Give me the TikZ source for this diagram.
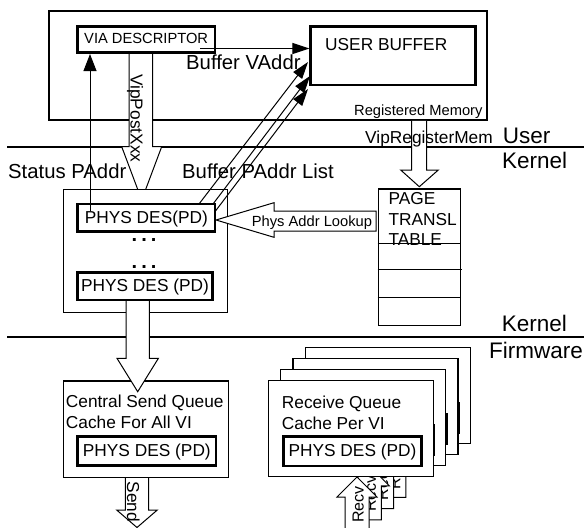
\documentclass[tikz,border=0pt]{standalone}
\usepackage{fontspec}
\setmainfont{Liberation Sans}
\usetikzlibrary{arrows.meta,calc}
\begin{document}
\begin{tikzpicture}[x=1pt,y=-1pt,
  thinbox/.style={draw, line width=1.2pt, inner sep=0pt, fill=white},
  thickbox/.style={draw, line width=2.7pt, inner sep=0pt, fill=white, text depth=1.5pt},
  blockarrow/.style={draw, line width=1pt, fill=white, line join=miter},
  ptr/.style={line width=1pt, -{Triangle[length=17pt,width=11pt]}},
  fs/.style={font=\fontsize{14.7}{17}\selectfont},
  fm/.style={font=\fontsize{17.3}{20.5}\selectfont},
  fr/.style={font=\fontsize{16}{19}\selectfont},
  fl/.style={font=\fontsize{20.3}{24}\selectfont},
  fx/.style={font=\fontsize{22.5}{26}\selectfont},
  fdots/.style={font=\fontsize{20}{24}\selectfont\bfseries},
  lbl/.style={inner sep=0pt, anchor=base west},
  sep/.style={line width=2.3pt},
]
\useasboundingbox (0,0) rectangle (588,527);

% layer separators
\coordinate (ukL) at (7,146.7);
\coordinate (ukR) at (584,146.7);
\coordinate (kfL) at (7,337);
\coordinate (kfR) at (584,337);
\draw[sep] (ukL) -- (ukR);
\draw[sep] (kfL) -- (kfR);
\node[fx,lbl] (tuser) at (502.7,143.3) {User};
\node[fx,lbl] (tkern1) at (502,168.3) {Kernel};
\node[fx,lbl] (tkern2) at (501.7,331) {Kernel};
\node[fx,lbl] (tfirm) at (489,358.3) {Firmware};

% user space
\node[draw, line width=1.7pt, inner sep=0pt, minimum width=438pt, minimum height=109.3pt] (userbox) at (268.3,65.35) {};
\filldraw[blockarrow] (129,52.7) -- (129,146.7) -- (121.7,146.7) -- (141.7,200) -- (161.7,146.7) -- (152.7,146.7) -- (152.7,52.7);
\node[fm, inner sep=0pt, rotate=-90, anchor=base west] (tpost) at (130.5,74) {VipPostXxx};
\filldraw[blockarrow] (411.7,120.9) -- (411.7,170) -- (400.7,170) -- (419.3,186.7) -- (438.3,170) -- (426.7,170) -- (426.7,120.9);
\node[fm,lbl] (treg) at (365,143) {VipRegisterMem};
\node[thickbox, fs, text depth=3pt, minimum width=137.7pt, minimum height=26pt] (via) at (146.15,39.7) {VIA DESCRIPTOR};
\node[thickbox, minimum width=165pt, minimum height=58.3pt] (ubuf) at (393.2,55.85) {};
\node[fm,lbl] (tubuf) at (325,50) {USER BUFFER};
\node[fs,lbl] (tregmem) at (354,115) {Registered Memory};
\coordinate (vaS) at (200,48.5);
\draw[ptr] (vaS) -- (vaS -| ubuf.west);
\node[fl,lbl] (tvaddr) at (186,70) {Buffer VAddr};

% kernel
\node[fl,lbl] (tstat) at (8,178) {Status PAddr};
\node[fl,lbl] (tplist) at (182,178) {Buffer PAddr List};
\node[thinbox, minimum width=164.4pt, minimum height=123pt] (kcont) at (145.5,250.8) {};

% central send queue
\filldraw[blockarrow] (125.3,478) -- (125.3,510) -- (116.7,510) -- (137,527.5) -- (157.3,510) -- (148.7,510) -- (148.7,478);
\node[fm, inner sep=0pt, rotate=-90, anchor=base west] (tsend) at (127,481.5) {Send};
\node[thinbox, minimum width=165pt, minimum height=96.3pt] (central) at (145.8,429.15) {};
\filldraw[blockarrow] (126,300) -- (126,358.3) -- (117,358.3) -- (137.7,391.7) -- (158.4,358.3) -- (149.4,358.3) -- (149.4,300);
\node[fm,lbl] (tcs1) at (65.7,407.7) {Central Send Queue};
\node[fm,lbl] (tcs2) at (65.7,428.3) {Cache For All VI};
\node[thickbox, fm, minimum width=138.3pt, minimum height=29pt] (pd3) at (146.85,451.2) {PHYS DES (PD)};

\node[thickbox, fm, minimum width=137.3pt, minimum height=27.7pt] (pd1) at (146.35,217.85) {PHYS DES(PD)};
\node[fdots,lbl] (dots1) at (131.5,241.5) {.\kern4pt.\kern4pt.};
\node[fdots,lbl] (dots2) at (131.5,268) {.\kern4pt.\kern4pt.};
\node[thickbox, fm, minimum width=134.6pt, minimum height=27.7pt] (pd2) at (145,286.15) {PHYS DES (PD)};

\coordinate (stS) at (90,211);
\draw[line width=1pt, -{Triangle[length=17pt,width=13pt]}] (stS) -- (stS |- via.south);

\coordinate (d1s) at (199,204);
\coordinate (d2s) at (213,204);
\coordinate (d3s) at (215.5,211);
\coordinate (d1e) at (308,62);
\coordinate (d2e) at (310,76);
\coordinate (d3e) at (308,89);
\draw[ptr] (d1s) -- (d1e);
\draw[ptr] (d2s) -- (d2e);
\draw[ptr] (d3s) -- (d3e);

% page translation table
\filldraw[blockarrow] (376,211) -- (274,211) -- (274,202.7) -- (216,220) -- (274,237.3) -- (274,231) -- (376,231) -- cycle;
\node[fs,lbl] (tlookup) at (251.7,226) {Phys Addr Lookup};
\node[thinbox, minimum width=82.4pt, minimum height=136.7pt] (ptable) at (419.5,257.35) {};
\node[fm,lbl] (tpage) at (388.3,204) {PAGE};
\node[fm,lbl] (ttransl) at (388.3,225) {TRANSL};
\node[fm,lbl] (ttable) at (388.3,245.5) {TABLE};
\draw[line width=1.2pt] ($(ptable.north west)+(0,55.3)$) -- ($(ptable.north east)+(0,55.3)$);
\draw[line width=1.2pt] ($(ptable.north west)+(0,81)$) -- ($(ptable.north east)+(1,81)$);
\draw[line width=1.2pt] ($(ptable.north west)+(0,109.3)$) -- ($(ptable.north east)+(0,109.3)$);

% receive queues per VI (stacked copies, back to front)
\foreach \k in {3,2,1}{
  \begin{scope}[shift={(12.3*\k,-11.2*\k)}]
    \node[thinbox, minimum width=165pt, minimum height=96pt] (rq\k) at (350.8,428.7) {};
    \node[thickbox, minimum width=138.4pt, minimum height=29.3pt] (rpd\k) at (352.5,451.35) {};
    \filldraw[blockarrow] (345,531) -- (345,497) -- (337,497) -- (357,477) -- (377,497) -- (369,497) -- (369,531) -- cycle;
    \node[fr, inner sep=0pt, rotate=90, anchor=base west] (recv\k) at (363.5,523) {Recv};
  \end{scope}
}
\node[thinbox, minimum width=165pt, minimum height=96pt] (rq0) at (350.8,428.7) {};
\node[fm,lbl] (rqa0) at (281.7,408.3) {Receive Queue};
\node[fm,lbl] (rqb0) at (281.7,429.3) {Cache Per VI};
\node[thickbox, fm, minimum width=138.4pt, minimum height=29.3pt] (rpd0) at (352.5,451.35) {PHYS DES (PD)};
\filldraw[blockarrow] (345,531) -- (345,497) -- (337,497) -- (357,477) -- (377,497) -- (369,497) -- (369,531) -- cycle;
\node[fr, inner sep=0pt, rotate=90, anchor=base west] (recv0) at (363.5,523) {Recv};
\end{tikzpicture}
\end{document}
